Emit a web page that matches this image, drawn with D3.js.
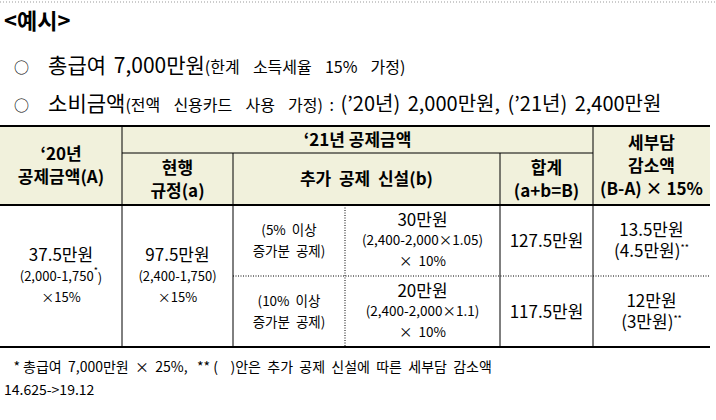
<!DOCTYPE html><html><head><meta charset="utf-8">
<script src="https://cdn.jsdelivr.net/npm/d3@7"></script>
<style>body{margin:0;background:#fff}</style></head><body>
<svg id="c" width="716" height="420"></svg>
<script>
const title = "<예시>";
const bullets = [
  [["총급여 7,000만원",21],["(한계  소득세율  15%  가정)",16]],
  [["소비금액",21],["(전액  신용카드  사용  가정) : ",16],["(’20년) 2,000만원, (’21년) 2,400만원",20]]
];
const colX = [0,122,233,345,500,593,710];
const rowY = [126,153,205,276,347];
const headers = [
  [0,1,0,2,["‘20년","공제금액(A)"]],
  [1,5,0,1,["‘21년 공제금액"]],
  [5,6,0,2,["세부담","감소액","(B-A) × 15%"]],
  [1,2,1,2,["현행","규정(a)"]],
  [2,4,1,2,["추가  공제  신설(b)"]],
  [4,5,1,2,["합계","(a+b=B)"]]
];
const body = [
  [0,1,2,4,[["37.5만원",17],["(2,000-1,750*)",13],["×15%",13]]],
  [1,2,2,4,[["97.5만원",17],["(2,400-1,750)",13],["×15%",13]]],
  [2,3,2,3,[["(5% 이상",13.5],["증가분 공제)",13.5]]],
  [3,4,2,3,[["30만원",17],["(2,400-2,000×1.05)",13.5],["× 10%",13.5]]],
  [4,5,2,3,[["127.5만원",17]]],
  [5,6,2,3,[["13.5만원",17],["(4.5만원)**",17]]],
  [2,3,3,4,[["(10% 이상",13.5],["증가분 공제)",13.5]]],
  [3,4,3,4,[["20만원",17],["(2,400-2,000×1.1)",13.5],["× 10%",13.5]]],
  [4,5,3,4,[["117.5만원",17]]],
  [5,6,3,4,[["12만원",17],["(3만원)**",17]]]
];
const footnotes = ["   * 총급여  7,000만원  ×  25%,   ** (    )안은  추가  공제  신설에  따른  세부담  감소액","14.625->19.12"];

const svg = d3.select("#c");
const F = "'Noto Sans CJK KR','Noto Sans',sans-serif";
svg.append("line").attr("x1",0).attr("x2",716).attr("y1",2).attr("y2",2).attr("stroke","#999").attr("stroke-dasharray","1,2");
svg.append("text").attr("x",4).attr("y",29).attr("font-family",F).attr("font-weight","bold").attr("font-size",22).text(title);
bullets.forEach((b,i)=>{
  const t = svg.append("text").attr("x",14).attr("y",73+i*38).attr("font-family",F).style("white-space","pre").attr("word-spacing",3);
  t.append("tspan").attr("font-size",15).text("○   ");
  b.forEach(([s,sz])=>t.append("tspan").attr("font-size",sz).text(s));
});
const x = i=>colX[i], y = i=>rowY[i];
svg.append("rect").attr("x",0).attr("y",y(0)).attr("width",x(6)).attr("height",y(2)-y(0)).attr("fill","#f1f1dc");
const ln=(x1,y1,x2,y2,w,d)=>svg.append("line").attr("x1",x1).attr("y1",y1).attr("x2",x2).attr("y2",y2).attr("stroke","#000").attr("stroke-width",w).attr("stroke-dasharray",d||null);
ln(0,y(0),x(6),y(0),2); ln(0,y(2),x(6),y(2),2); ln(0,y(4),x(6),y(4),2);
ln(x(1),y(1),x(5),y(1),1);
ln(x(2),y(3),x(6),y(3),1,"1,1.5");
[1,5].forEach(c=>ln(x(c),y(0),x(c),y(4),1));
[2,4].forEach(c=>ln(x(c),y(1),x(c),y(4),1));
ln(x(3),y(2),x(3),y(4),1,"1,1.5");
headers.forEach(([c0,c1,r0,r1,lines])=>{
  const cx=(x(c0)+x(c1))/2, cy=(y(r0)+y(r1))/2, lh=23;
  lines.forEach((s,k)=>svg.append("text").attr("x",cx).attr("y",cy+(k-(lines.length-1)/2)*lh).attr("dy","0.36em")
    .attr("text-anchor","middle").attr("font-family",F).attr("font-weight","bold").attr("font-size",17).style("white-space","pre").text(s));
});
body.forEach(([c0,c1,r0,r1,lines])=>{
  const cx=(x(c0)+x(c1))/2, cy=(y(r0)+y(r1))/2, lh=21;
  lines.forEach(([s,sz],k)=>{
    const t=svg.append("text").attr("x",cx).attr("y",cy+(k-(lines.length-1)/2)*lh).attr("dy","0.36em")
      .attr("text-anchor","middle").attr("font-family",F).attr("font-size",sz).attr("word-spacing",3);
    const m=s.match(/^(.*?)(\*+)(\)?)$/);
    if(m){t.append("tspan").text(m[1]);t.append("tspan").attr("font-size",9).attr("dy","-0.7em").text(m[2]);if(m[3])t.append("tspan").attr("dy","0.7em").text(m[3]);}
    else t.text(s);
  });
});
footnotes.forEach((s,i)=>svg.append("text").attr("x",4).attr("y",372+i*23).attr("font-family",F).attr("font-size",14).style("white-space","pre").text(s));
</script></body></html>
